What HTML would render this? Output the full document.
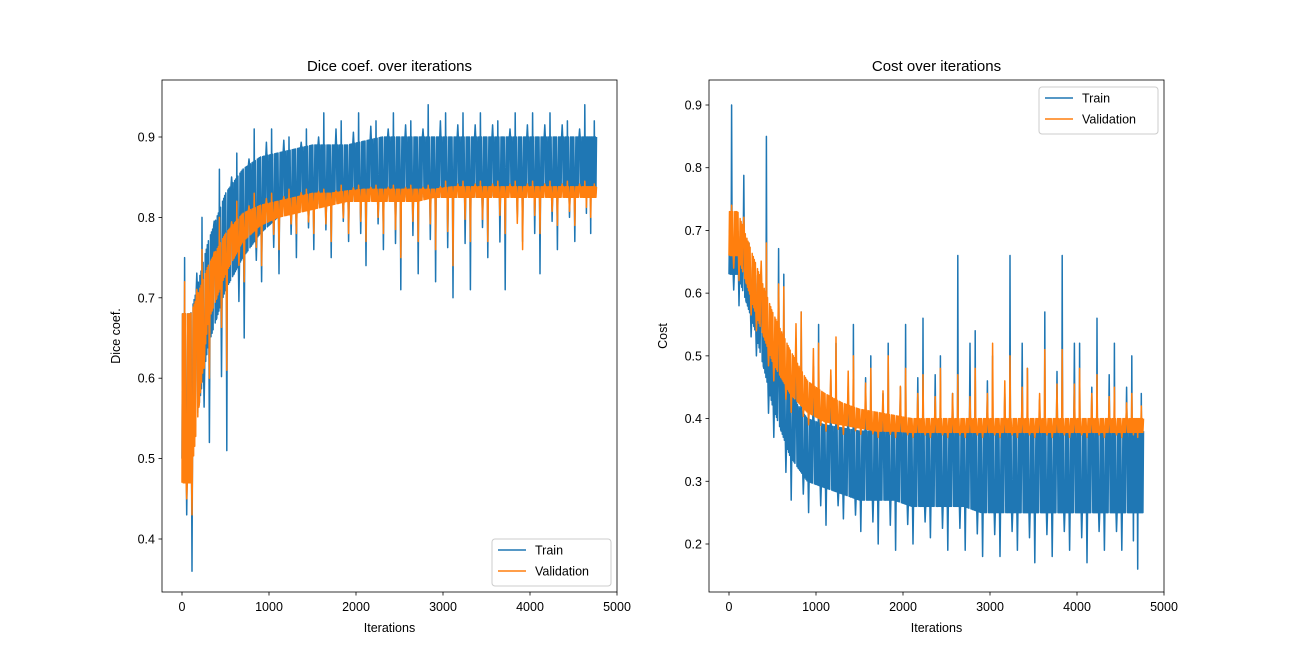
<!DOCTYPE html>
<html><head><meta charset="utf-8"><style>
body{margin:0;background:#fff}
svg text{font-family:"Liberation Sans","DejaVu Sans",sans-serif;fill:#000}
</style></head><body>
<svg id="fig" width="1294" height="665" xmlns="http://www.w3.org/2000/svg"></svg>
<script>
// bucket starts (iterations)
const buckets=[0,200,400,600,800,1000,1200,1400,1600,1800,2000,2200,2400,2600,2800,3000,3200,3400,3600,3800,4000,4200,4400,4600];
const lastIter=4770;
// Dice - train
const diceTrainLo=[0.50,0.64,0.71,0.75,0.78,0.80,0.81,0.815,0.82,0.82,0.82,0.825,0.825,0.825,0.825,0.825,0.825,0.825,0.83,0.83,0.83,0.83,0.83,0.83];
const diceTrainHi=[0.68,0.77,0.83,0.86,0.875,0.88,0.885,0.89,0.89,0.89,0.895,0.90,0.90,0.90,0.90,0.90,0.90,0.90,0.90,0.90,0.90,0.90,0.90,0.90];
const diceTrainSpikeLo=[0.36,0.52,0.51,0.65,0.72,0.73,0.75,0.76,0.75,0.77,0.74,0.76,0.71,0.73,0.72,0.70,0.71,0.75,0.71,0.77,0.73,0.76,0.77,0.78];
const diceTrainSpikeHi=[0.75,0.80,0.86,0.88,0.91,0.91,0.90,0.91,0.93,0.92,0.93,0.92,0.93,0.92,0.94,0.93,0.93,0.93,0.92,0.93,0.93,0.93,0.92,0.94];
// Dice - validation
const diceValLo=[0.47,0.67,0.73,0.77,0.79,0.80,0.805,0.81,0.815,0.82,0.82,0.82,0.82,0.82,0.825,0.825,0.825,0.825,0.825,0.825,0.825,0.825,0.825,0.825];
const diceValHi=[0.68,0.74,0.78,0.805,0.815,0.82,0.825,0.83,0.83,0.833,0.835,0.835,0.835,0.835,0.835,0.838,0.838,0.838,0.838,0.838,0.838,0.838,0.838,0.838];
const diceValSpikeLo=[0.43,0.60,0.61,0.72,0.74,0.76,0.78,0.78,0.77,0.78,0.77,0.78,0.75,0.77,0.76,0.74,0.77,0.77,0.78,0.76,0.78,0.79,0.79,0.80];
const diceValSpikeHi=[0.72,0.76,0.80,0.82,0.83,0.83,0.835,0.835,0.835,0.84,0.84,0.84,0.84,0.84,0.84,0.845,0.845,0.845,0.845,0.845,0.845,0.845,0.845,0.845];
// Cost - train
const costTrainLo=[0.63,0.54,0.42,0.34,0.30,0.29,0.28,0.27,0.27,0.27,0.26,0.26,0.26,0.26,0.25,0.25,0.25,0.25,0.25,0.25,0.25,0.25,0.25,0.25];
const costTrainHi=[0.70,0.63,0.52,0.44,0.40,0.39,0.385,0.38,0.38,0.38,0.38,0.38,0.38,0.38,0.38,0.38,0.38,0.38,0.38,0.38,0.38,0.38,0.38,0.38];
const costTrainSpikeLo=[0.58,0.50,0.37,0.27,0.25,0.23,0.24,0.22,0.20,0.19,0.20,0.21,0.19,0.19,0.18,0.18,0.19,0.17,0.18,0.19,0.17,0.19,0.19,0.16];
const costTrainSpikeHi=[0.90,0.68,0.85,0.63,0.57,0.55,0.52,0.55,0.50,0.52,0.55,0.56,0.50,0.66,0.54,0.50,0.66,0.48,0.57,0.66,0.52,0.56,0.52,0.50];
// Cost - validation
const costValLo=[0.66,0.57,0.49,0.44,0.41,0.395,0.39,0.385,0.38,0.38,0.378,0.378,0.378,0.378,0.378,0.378,0.378,0.378,0.378,0.378,0.378,0.378,0.378,0.378];
const costValHi=[0.73,0.65,0.57,0.51,0.46,0.44,0.425,0.415,0.41,0.405,0.40,0.40,0.40,0.40,0.40,0.40,0.40,0.40,0.40,0.40,0.40,0.40,0.40,0.40];
const costValSpikeLo=[0.62,0.54,0.46,0.41,0.39,0.38,0.375,0.375,0.37,0.37,0.37,0.37,0.37,0.37,0.37,0.37,0.37,0.37,0.37,0.37,0.37,0.37,0.37,0.37];
const costValSpikeHi=[0.74,0.68,0.68,0.61,0.57,0.52,0.53,0.50,0.48,0.50,0.48,0.47,0.48,0.47,0.48,0.52,0.50,0.48,0.51,0.51,0.48,0.47,0.45,0.44];
const xTicks=[0,1000,2000,3000,4000,5000];
const diceTicks=[0.4,0.5,0.6,0.7,0.8,0.9];
const costTicks=[0.2,0.3,0.4,0.5,0.6,0.7,0.8,0.9];

const NS="http://www.w3.org/2000/svg";
const svg=document.getElementById('fig');
function mk(tag,attrs,parent){const e=document.createElementNS(NS,tag);for(const k in attrs)e.setAttribute(k,attrs[k]);(parent||svg).appendChild(e);return e;}

function interp(arr,it){
  let f=(it-100)/200;
  if(f<=0)return arr[0];
  if(f>=arr.length-1)return arr[arr.length-1];
  const i=Math.floor(f),t=f-i;
  return arr[i]*(1-t)+arr[i+1]*t;
}

function panel(cfg){
  const g=mk('g',{});
  
  
  const X=v=>cfg.x0+(v-0)*(cfg.x1000-cfg.x0)/1000;
  const Y=v=>cfg.yA+(v-cfg.vA)*(cfg.yB-cfg.yA)/(cfg.vB-cfg.vA);
  function series(lo,hi,sLo,sHi,color,nm){
    const pts=[];
    buckets.forEach((b,i)=>{
      const end=i<buckets.length-1?buckets[i+1]:lastIter;
      const n=Math.max(6,Math.round((end-b)/6));
      for(let k=0;k<n;k++){
        const it=b+(end-b)*k/n;
        let v=(k%2===0)?interp(lo,it):interp(hi,it);
        if(k===5)v=sHi[i];
        if(k===Math.floor(n*0.6))v=sLo[i];
        if(k===Math.floor(n*0.3))v=(sLo[i]+interp(lo,it))/2;
        if(k===Math.floor(n*0.85))v=(sHi[i]+interp(hi,it))/2;
        pts.push(X(it).toFixed(1)+','+Y(v).toFixed(1));
      }
    });
    const p=mk('polyline',{points:pts.join(' '),fill:'none',stroke:color,'stroke-width':1.5,'stroke-linejoin':'round'},g);
    
    
  }
  series(cfg.tLo,cfg.tHi,cfg.tsLo,cfg.tsHi,'#1f77b4','train-line');
  series(cfg.vLo,cfg.vHi,cfg.vsLo,cfg.vsHi,'#ff7f0e','validation-line');
  const fr=mk('rect',{x:cfg.L,y:80,width:455,height:512,fill:'none',stroke:'#000','stroke-width':0.8},g);
  
  
  xTicks.forEach(t=>{
    const x=X(t);
    mk('line',{x1:x,x2:x,y1:592,y2:595.5,stroke:'#000','stroke-width':0.8},g);
    const tx=mk('text',{x:x,y:611,'font-size':12.5,'text-anchor':'middle'},g);tx.textContent=t;
    
    
  });
  cfg.yTicks.forEach(t=>{
    const y=Y(t);
    mk('line',{x1:cfg.L-3.5,x2:cfg.L,y1:y,y2:y,stroke:'#000','stroke-width':0.8},g);
    const tx=mk('text',{x:cfg.L-7,y:y+4.5,'font-size':12.5,'text-anchor':'end'},g);tx.textContent=t.toFixed(1);
    
    
  });
  const ti=mk('text',{x:cfg.L+227.5,y:71,'font-size':15,'text-anchor':'middle'},g);ti.textContent=cfg.title;
  
  
  const xl=mk('text',{x:cfg.L+227.5,y:632,'font-size':12.5,'text-anchor':'middle'},g);xl.textContent='Iterations';
  
  
  const yl=mk('text',{x:0,y:0,'font-size':12.5,'text-anchor':'middle',transform:`translate(${cfg.ylx},336) rotate(-90)`},g);yl.textContent=cfg.ylabel;
  
  
  const lg=mk('g',{},g);
  
  
  mk('rect',{x:cfg.lgx,y:cfg.lgy,width:119,height:47,rx:3,fill:'#fff','fill-opacity':0.8,stroke:'#ccc'},lg);
  [['Train','#1f77b4'],['Validation','#ff7f0e']].forEach((e,i)=>{
    const yy=cfg.lgy+11+i*21;
    const le=mk('g',{},lg);
    
    
    mk('line',{x1:cfg.lgx+6,x2:cfg.lgx+34,y1:yy,y2:yy,stroke:e[1],'stroke-width':1.5},le);
    const t=mk('text',{x:cfg.lgx+43,y:yy+4.5,'font-size':12.5},le);t.textContent=e[0];
  });
}
panel({name:'dice-chart',L:162,x0:182,x1000:269,vA:0.9,yA:137,vB:0.4,yB:539,yTicks:diceTicks,title:'Dice coef. over iterations',ylabel:'Dice coef.',ylx:120,lgx:492,lgy:539,
  tLo:diceTrainLo,tHi:diceTrainHi,tsLo:diceTrainSpikeLo,tsHi:diceTrainSpikeHi,vLo:diceValLo,vHi:diceValHi,vsLo:diceValSpikeLo,vsHi:diceValSpikeHi});
panel({name:'cost-chart',L:709,x0:729,x1000:816,vA:0.9,yA:105,vB:0.2,yB:544,yTicks:costTicks,title:'Cost over iterations',ylabel:'Cost',ylx:667,lgx:1039,lgy:87,
  tLo:costTrainLo,tHi:costTrainHi,tsLo:costTrainSpikeLo,tsHi:costTrainSpikeHi,vLo:costValLo,vHi:costValHi,vsLo:costValSpikeLo,vsHi:costValSpikeHi});
</script>
</body></html>
